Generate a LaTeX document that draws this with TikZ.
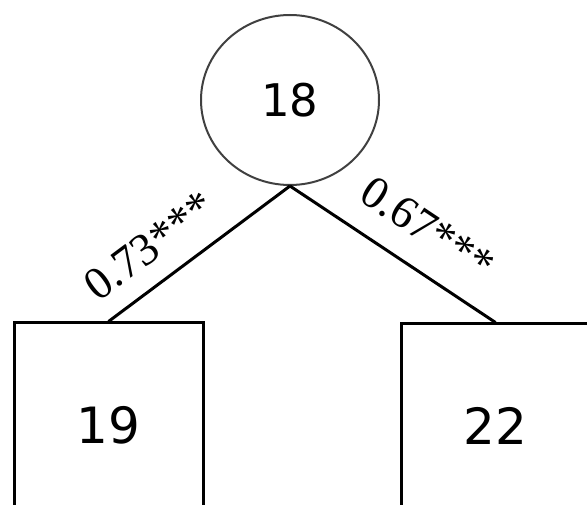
\documentclass[tikz,border=0pt]{standalone}
\usepackage{fontspec}
\setmainfont{Liberation Serif}
\newfontfamily\numfont{DejaVu Sans}
\usetikzlibrary{shapes.geometric,positioning}

\tikzset{
  leaf/.style={rectangle, draw, line width=3pt, minimum height=204pt, font=\numfont\fontsize{50}{54}\selectfont},
  link/.style={line width=3pt},
  coef/.style={sloped, font=\fontsize{46}{50}\selectfont, inner sep=0pt}
}

\begin{document}
\begin{tikzpicture}[x=1pt,y=1pt]
    \useasboundingbox (0,0) rectangle (587,504);
    \clip (0,0) rectangle (587,504);
    \node(main) [ellipse, draw=black!75, line width=2pt, minimum width=178pt, minimum height=170pt, inner sep=0pt, font=\numfont\fontsize{45}{48}\selectfont] at (290,404) {18};
    \node(one) [leaf, minimum width=189pt] at (108.5,79) {19};
    \node(two) [leaf, minimum width=188pt] at (495.5,78) {22};
    \draw[link] (one.north) -- node[coef, above=19pt, pos=0.345]{0.73***} (main.south);
    \draw[link] (main.south) -- node[coef, above=24pt, pos=0.56]{0.67***} (two.north);
  \end{tikzpicture}
\end{document}
